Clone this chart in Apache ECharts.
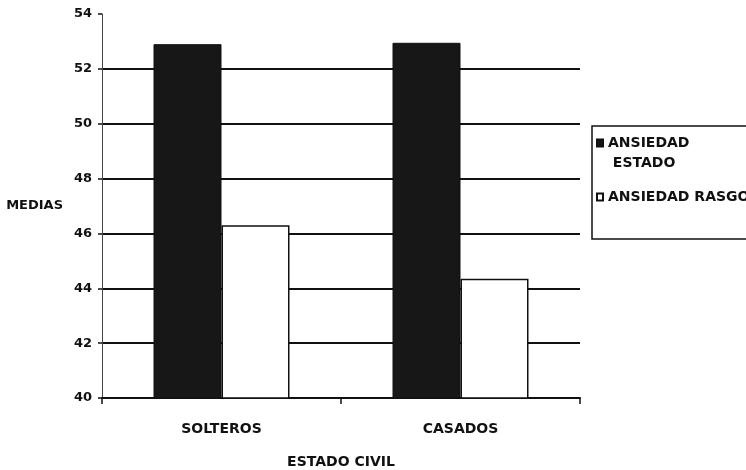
<!DOCTYPE html>
<html>
<head>
<meta charset="utf-8">
<script src="https://cdn.jsdelivr.net/npm/echarts@6/dist/echarts.min.js"></script>
<style>
  html, body { margin: 0; padding: 0; background: #fff; }
  #chart { width: 746px; height: 470px; }
</style>
</head>
<body>
<div id="chart"></div>
<script>
// Mean anxiety scores by marital status
const categories = ['SOLTEROS', 'CASADOS'];
const seriesNames = ['ANSIEDAD ESTADO', 'ANSIEDAD RASGO'];
const estadoValues = [52.9, 52.95];
const rasgoValues = [46.3, 44.35];
const yTicks = { min: 40, max: 54, step: 2 };

const FONT = 'DejaVu Sans';
const INK = '#111';

const chart = echarts.init(document.getElementById('chart'), null, { renderer: 'canvas' });

chart.setOption({
  backgroundColor: '#fff',
  animation: false,
  grid: { left: 102, right: 166, top: 14, bottom: 72, outerBoundsMode: 'none' },
  legend: {
    orient: 'vertical',
    left: 596,
    top: 113,
    padding: 0,
    itemGap: 14,
    icon: 'rect',
    itemWidth: 6,
    itemHeight: 7,
    textStyle: { fontFamily: FONT, fontWeight: 'bold', fontSize: 14, color: INK, lineHeight: 20 },
    formatter: function (name) {
      // the first entry wraps onto a second, indented line; the leading
      // blank line keeps its first line level with the swatch
      if (name === seriesNames[0]) {
        const parts = name.split(' ');
        return '\n' + parts[0] + '\n ' + parts.slice(1).join(' ');
      }
      return name;
    },
    data: seriesNames
  },
  graphic: [
    {
      type: 'rect',
      shape: { x: 592, y: 126, width: 170, height: 113 },
      style: { fill: 'none', stroke: INK, lineWidth: 1.5 },
      silent: true
    }
  ],
  xAxis: {
    type: 'category',
    data: categories,
    name: 'ESTADO CIVIL',
    nameLocation: 'middle',
    nameGap: 57,
    nameTextStyle: { fontFamily: FONT, fontWeight: 'bold', fontSize: 14, color: INK },
    axisLine: { lineStyle: { color: INK, width: 2 } },
    axisTick: { show: true, length: 6, lineStyle: { color: INK, width: 1.5 } },
    axisLabel: { margin: 24, fontFamily: FONT, fontWeight: 'bold', fontSize: 14, color: INK },
    splitLine: { show: false }
  },
  yAxis: {
    type: 'value',
    min: yTicks.min,
    max: yTicks.max,
    interval: yTicks.step,
    name: 'MEDIAS',
    nameLocation: 'middle',
    nameRotate: 0,
    nameGap: 39,
    nameTextStyle: { fontFamily: FONT, fontWeight: 'bold', fontSize: 13, color: INK, padding: [0, 0, 8, 0] },
    axisLine: { show: true, lineStyle: { color: '#444', width: 1 } },
    axisTick: { show: true, length: 4, lineStyle: { color: INK, width: 1.5 } },
    axisLabel: { margin: 10, fontFamily: FONT, fontWeight: 'bold', fontSize: 13, color: INK },
    splitLine: { show: true, showMaxLine: false, lineStyle: { color: INK, width: 2 } }
  },
  series: [
    {
      name: seriesNames[0],
      type: 'bar',
      data: estadoValues,
      barWidth: 68,
      barGap: '0%',
      itemStyle: { color: '#171717', borderColor: '#111', borderWidth: 1 }
    },
    {
      name: seriesNames[1],
      type: 'bar',
      data: rasgoValues,
      barWidth: 68,
      barGap: '0%',
      itemStyle: { color: '#fff', borderColor: INK, borderWidth: 1.5 }
    }
  ]
});
</script>
</body>
</html>
